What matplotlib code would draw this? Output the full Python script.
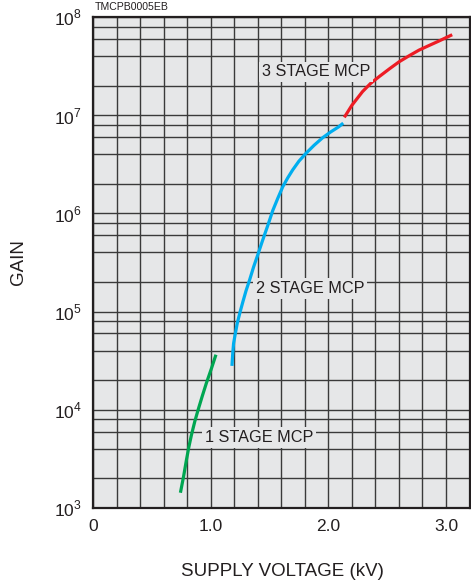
import numpy as np
import matplotlib
matplotlib.use("Agg")
import matplotlib.pyplot as plt
from matplotlib.ticker import MultipleLocator, FixedLocator, FixedFormatter, LogLocator, NullFormatter

plt.rcParams['font.family'] = ['Liberation Sans', 'DejaVu Sans']
plt.rcParams['mathtext.fontset'] = 'custom'
plt.rcParams['mathtext.rm'] = 'Liberation Sans'

# -------------------------------------------------------------------
# Datos (tensión en kV, ganancia)
# -------------------------------------------------------------------
stage1_kv   = [0.743, 0.770, 0.794, 0.815, 0.836, 0.865, 0.893, 0.928, 0.963, 1.005, 1.045]
stage1_gain = [1.43e3, 2.1e3, 3.08e3, 4.2e3, 5.5e3, 7.6e3, 9.95e3, 1.37e4, 1.86e4, 2.6e4, 3.64e4]

stage2_kv   = [1.181, 1.188, 1.195, 1.21, 1.226, 1.25, 1.274, 1.30, 1.331, 1.365, 1.401, 1.44,
               1.485, 1.528, 1.57, 1.613, 1.655, 1.697, 1.75, 1.811, 1.88, 1.952, 2.02, 2.087, 2.127]
stage2_gain = [2.8e4, 3.8e4, 4.75e4, 6.0e4, 7.6e4, 9.9e4, 1.26e5, 1.62e5, 2.1e5, 2.85e5, 3.8e5, 5.25e5,
               7.5e5, 1.07e6, 1.42e6, 1.87e6, 2.3e6, 2.77e6, 3.4e6, 4.1e6, 4.95e6, 5.9e6, 6.75e6, 7.6e6, 8.3e6]

stage3_kv   = [2.136, 2.2, 2.291, 2.36, 2.432, 2.52, 2.602, 2.69, 2.771, 2.86, 2.941, 3.053]
stage3_gain = [9.5e6, 1.26e7, 1.74e7, 2.11e7, 2.47e7, 2.97e7, 3.5e7, 4.05e7, 4.6e7, 5.15e7, 5.7e7, 6.6e7]

x_ticks  = [0, 1.0, 2.0, 3.0]
x_labels = ['0', '1.0', '2.0', '3.0']
y_ticks  = [1e3, 1e4, 1e5, 1e6, 1e7, 1e8]
y_labels = [r'$10^{3}$', r'$10^{4}$', r'$10^{5}$', r'$10^{6}$', r'$10^{7}$', r'$10^{8}$']

# -------------------------------------------------------------------
# Figura
# -------------------------------------------------------------------
fig = plt.figure(figsize=(4.71, 5.85), dpi=100)
ax = fig.add_axes([93/471, 1 - 508/585, 376.5/471, 491/585])
bg = '#e6e7e8'
ax.set_facecolor(bg)

ax.set_yscale('log')
ax.set_xlim(0, 3.2)
ax.set_ylim(1e3, 1e8)

ax.xaxis.set_major_locator(FixedLocator(x_ticks))
ax.xaxis.set_major_formatter(FixedFormatter(x_labels))
ax.xaxis.set_minor_locator(MultipleLocator(0.2))
ax.yaxis.set_major_locator(FixedLocator(y_ticks))
ax.yaxis.set_major_formatter(FixedFormatter(y_labels))
ax.yaxis.set_minor_locator(LogLocator(base=10, subs=[2, 4, 6, 8]))
ax.yaxis.set_minor_formatter(NullFormatter())

ax.grid(True, which='both', color='#3a3a3a', linewidth=1.0)
ax.set_axisbelow(True)
ax.tick_params(which='both', length=0)
ax.tick_params(axis='y', labelsize=12.5, pad=8, colors='#231f20')
ax.tick_params(axis='x', labelsize=12.5, pad=8, colors='#231f20')
for s in ax.spines.values():
    s.set_linewidth(1.6)
    s.set_color('#231f20')

# — Curvas
ax.plot(stage1_kv, stage1_gain, color='#00a651', lw=2.3, solid_capstyle='butt')
ax.plot(stage2_kv, stage2_gain, color='#00aeef', lw=2.3, solid_capstyle='butt')
ax.plot(stage3_kv, stage3_gain, color='#ed1c24', lw=2.3, solid_capstyle='butt')

# — Etiquetas de las curvas
box = dict(facecolor=bg, edgecolor='none', pad=2)
ax.text(0.949, 10**3.72, '1 STAGE MCP', fontsize=11.7, color='#231f20', va='center', ha='left', bbox=box)
ax.text(1.387, 10**5.237, '2 STAGE MCP', fontsize=11.7, color='#231f20', va='center', ha='left', bbox=box)
ax.text(1.438, 10**7.44, '3 STAGE MCP', fontsize=11.7, color='#231f20', va='center', ha='left', bbox=box)

# — Títulos de ejes
fig.text(18/471, 1 - 262/585, 'GAIN', rotation=90, fontsize=13.5, color='#231f20', ha='center', va='center')
fig.text(282/471, 1 - 572/585, 'SUPPLY VOLTAGE (kV)', fontsize=13.5, color='#231f20', ha='center', va='center')
fig.text(95/471, 1 - 7/585, 'TMCPB0005EB', fontsize=7.6, color='#231f20', ha='left', va='center')

fig.savefig('out.png', dpi=100)
